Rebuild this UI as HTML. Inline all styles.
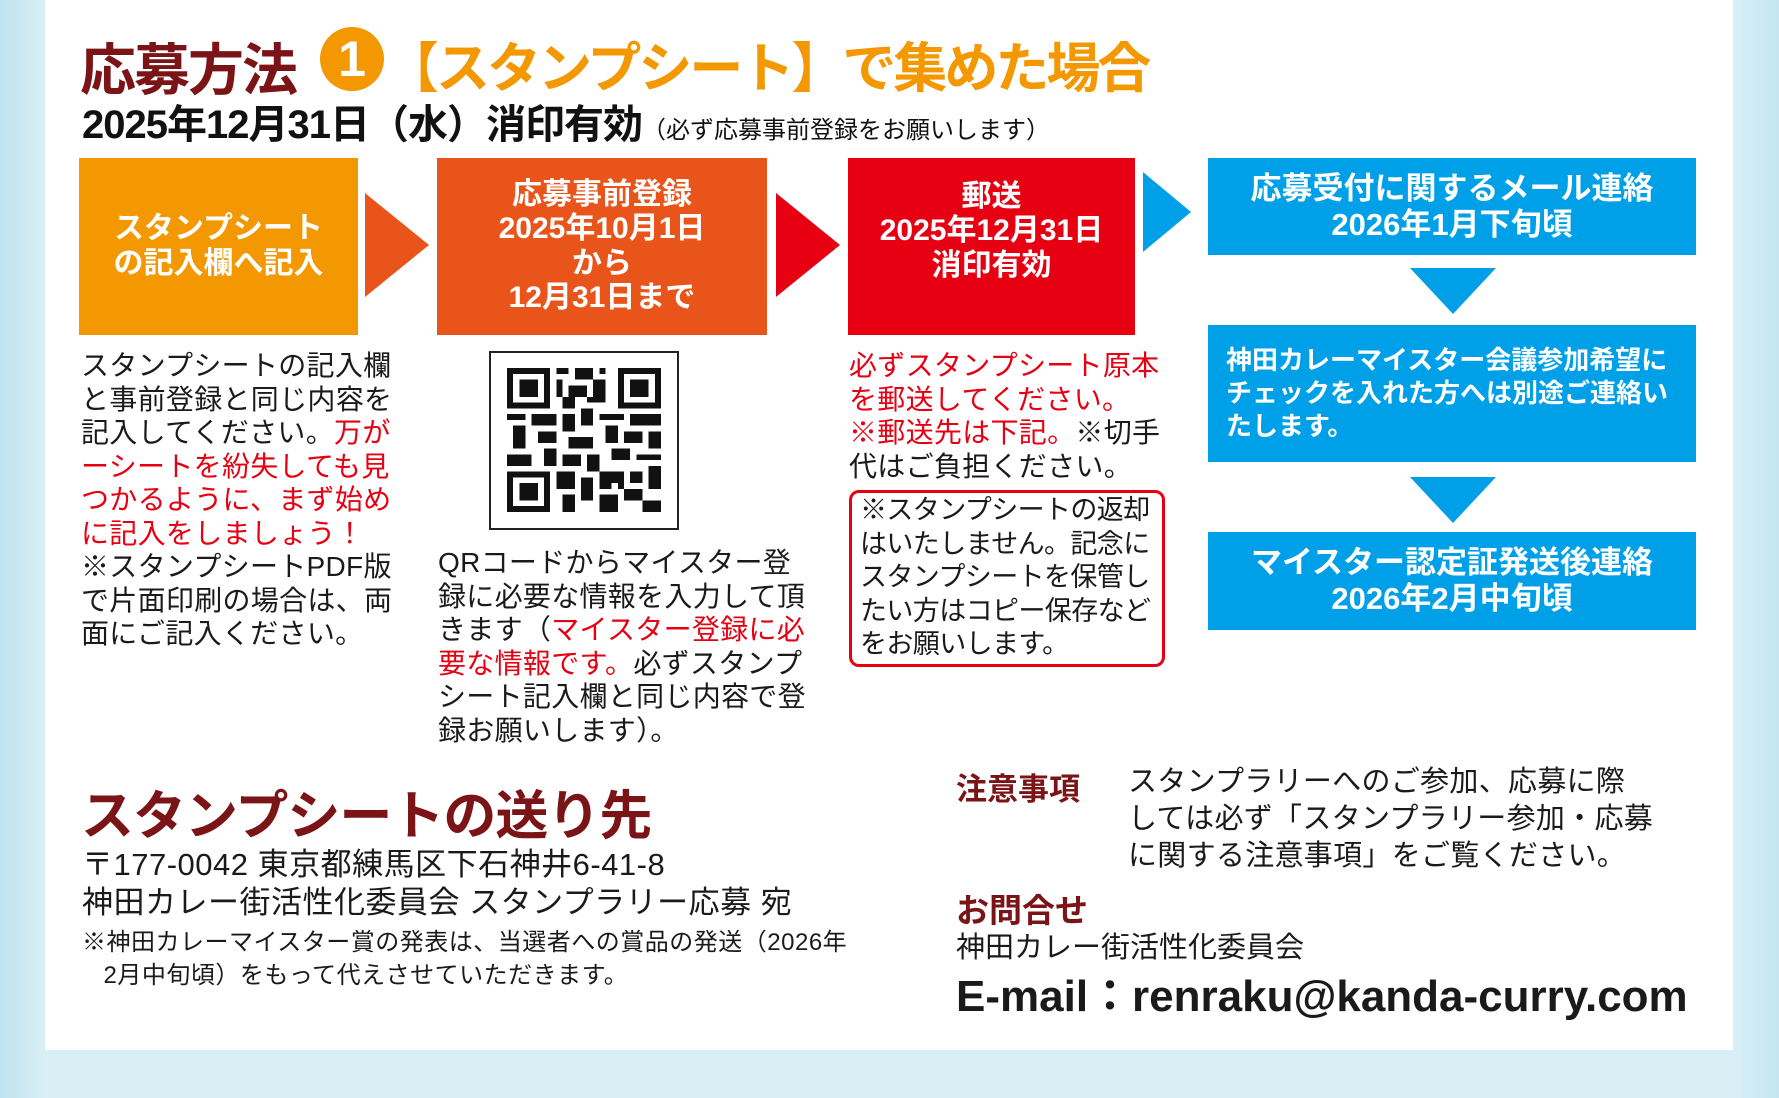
<!DOCTYPE html>
<html><head><meta charset="utf-8"><style>
*{margin:0;padding:0;box-sizing:border-box}
body{width:1779px;height:1098px;overflow:hidden;background:linear-gradient(90deg,#bfe3ee 0,#d9eff6 45px,#d9eff6 1733px,#c4e6f0 1779px);font-family:"Liberation Sans","Noto Sans CJK JP",sans-serif;color:#1a1a1a;position:relative}
.panel{position:absolute;left:45px;top:0;width:1688px;height:1050px;background:#fff}
.a{position:absolute;white-space:nowrap}
.b{font-weight:bold}
.box{position:absolute;color:#fff;font-weight:bold;text-align:center;display:flex;align-items:center;justify-content:center;line-height:1.15}
.r{color:#e60012}
.t{font-size:28px;line-height:33.5px;letter-spacing:0.3px}
</style></head><body>
<div class="panel"></div>
<div class="a b" style="left:80px;top:26px;font-size:56px;color:#7b1416;letter-spacing:-2px">応募方法</div>
<div class="a" style="left:320px;top:27px;width:64px;height:64px;border-radius:50%;background:#f39800;color:#fff;font-size:50px;font-weight:bold;text-align:center;line-height:64px">1</div>
<div class="a b" style="left:385px;top:24px;font-size:54px;color:#f39800;letter-spacing:-3px">【スタンプシート】で集めた場合</div>
<div class="a b" style="left:82px;top:92px;font-size:40px;color:#111;letter-spacing:-1px">2025年12月31日（水）消印有効<span style="font-size:24px;font-weight:normal;letter-spacing:0">（必ず応募事前登録をお願いします）</span></div>

<div class="box" style="left:79px;top:158px;width:279px;height:177px;background:#f39800;font-size:30px">スタンプシート<br>の記入欄へ記入</div>
<svg class="a" style="left:365px;top:193px" width="64" height="104"><polygon points="0,0 64,52 0,104" fill="#e8541a"/></svg>
<div class="box" style="left:437px;top:158px;width:330px;height:177px;background:#e8541a;font-size:30px">応募事前登録<br>2025年10月1日<br>から<br>12月31日まで</div>
<svg class="a" style="left:776px;top:193px" width="64" height="104"><polygon points="0,0 64,52 0,104" fill="#e60012"/></svg>
<div class="box" style="left:848px;top:158px;width:287px;height:177px;background:#e60012;font-size:30px;padding-bottom:30px">郵送<br>2025年12月31日<br>消印有効</div>
<svg class="a" style="left:1143px;top:172px" width="48" height="80"><polygon points="0,0 48,40 0,80" fill="#00a0e9"/></svg>
<div class="box" style="left:1208px;top:158px;width:488px;height:97px;background:#00a0e9;font-size:31px">応募受付に関するメール連絡<br>2026年1月下旬頃</div>
<svg class="a" style="left:1410px;top:268px" width="86" height="46"><polygon points="0,0 86,0 43,46" fill="#00a0e9"/></svg>
<div class="box" style="left:1208px;top:325px;width:488px;height:137px;background:#00a0e9;font-size:26px;text-align:left;justify-content:flex-start;padding-left:18px;line-height:33px">神田カレーマイスター会議参加希望に<br>チェックを入れた方へは別途ご連絡い<br>たします。</div>
<svg class="a" style="left:1410px;top:477px" width="86" height="46"><polygon points="0,0 86,0 43,46" fill="#00a0e9"/></svg>
<div class="box" style="left:1208px;top:532px;width:488px;height:98px;background:#00a0e9;font-size:31px">マイスター認定証発送後連絡<br>2026年2月中旬頃</div>

<div class="a t" style="left:81px;top:349px">スタンプシートの記入欄<br>と事前登録と同じ内容を<br>記入してください。<span class="r">万が</span><br><span class="r">ーシートを紛失しても見<br>つかるように、まず始め<br>に記入をしましょう！</span><br>※スタンプシートPDF版<br>で片面印刷の場合は、両<br>面にご記入ください。</div>

<div class="a" style="left:489px;top:351px;width:190px;height:179px;border:2px solid #222;background:#fff"></div>
<svg class="a" style="left:507px;top:368px" width="154" height="144" viewBox="0 0 25 25" preserveAspectRatio="none" shape-rendering="crispEdges">
<g fill="#111">
<rect x="0" y="0" width="7" height="7"/><rect x="18" y="0" width="7" height="7"/><rect x="0" y="18" width="7" height="7"/>
</g><g fill="#fff"><rect x="1" y="1" width="5" height="5"/><rect x="19" y="1" width="5" height="5"/><rect x="1" y="19" width="5" height="5"/></g>
<g fill="#111"><rect x="2" y="2" width="3" height="3"/><rect x="20" y="2" width="3" height="3"/><rect x="2" y="20" width="3" height="3"/>
<rect x="8" y="0" width="2" height="1"/><rect x="11" y="0" width="3" height="2"/><rect x="15" y="0" width="1" height="1"/><rect x="8" y="2" width="1" height="3"/><rect x="10" y="3" width="3" height="2"/><rect x="14" y="2" width="2" height="3"/><rect x="9" y="5" width="2" height="2"/><rect x="13" y="5" width="3" height="1"/>
<rect x="0" y="8" width="3" height="1"/><rect x="4" y="8" width="4" height="2"/><rect x="9" y="8" width="2" height="3"/><rect x="12" y="7" width="2" height="3"/><rect x="15" y="8" width="4" height="1"/><rect x="20" y="8" width="5" height="2"/>
<rect x="1" y="10" width="2" height="4"/><rect x="5" y="11" width="3" height="2"/><rect x="10" y="12" width="4" height="2"/><rect x="16" y="10" width="2" height="3"/><rect x="19" y="11" width="3" height="2"/><rect x="23" y="11" width="2" height="3"/>
<rect x="0" y="15" width="4" height="2"/><rect x="6" y="14" width="2" height="3"/><rect x="9" y="15" width="3" height="2"/><rect x="13" y="15" width="2" height="3"/><rect x="17" y="14" width="3" height="2"/><rect x="21" y="15" width="4" height="1"/>
<rect x="8" y="18" width="3" height="3"/><rect x="12" y="19" width="2" height="4"/><rect x="15" y="18" width="4" height="3"/><rect x="20" y="18" width="2" height="2"/><rect x="23" y="17" width="2" height="4"/>
<rect x="9" y="22" width="2" height="3"/><rect x="15" y="22" width="3" height="3"/><rect x="19" y="21" width="3" height="2"/><rect x="22" y="23" width="3" height="2"/><rect x="17" y="20" width="1" height="1" fill="#fff"/>
</g></svg>

<div class="a t" style="left:438px;top:546px">QRコードからマイスター登<br>録に必要な情報を入力して頂<br>きます（<span class="r">マイスター登録に必<br>要な情報です。</span>必ずスタンプ<br>シート記入欄と同じ内容で登<br>録お願いします）。</div>

<div class="a t" style="left:849px;top:349px"><span class="r">必ずスタンプシート原本<br>を郵送してください。<br>※郵送先は下記。</span>※切手<br>代はご負担ください。</div>
<div class="a t" style="left:849px;top:490px;width:316px;height:177px;border:3px solid #e60012;border-radius:10px;padding:1px 0 0 8px;line-height:33.5px;font-size:27px;letter-spacing:-0.6px">※スタンプシートの返却<br>はいたしません。記念に<br>スタンプシートを保管し<br>たい方はコピー保存など<br>をお願いします。</div>

<div class="a b" style="left:81px;top:774px;font-size:53px;color:#7b1416;letter-spacing:-1px">スタンプシートの送り先</div>
<div class="a" style="left:82px;top:846px;font-size:31px;line-height:38px;letter-spacing:0.5px">〒177-0042 東京都練馬区下石神井6-41-8<br>神田カレー街活性化委員会 スタンプラリー応募 宛</div>
<div class="a" style="left:82px;top:926px;font-size:24px;line-height:33px;letter-spacing:0.5px">※神田カレーマイスター賞の発表は、当選者への賞品の発送（2026年<br>&nbsp;&nbsp;&nbsp;2月中旬頃）をもって代えさせていただきます。</div>

<div class="a b" style="left:956px;top:764px;font-size:31px;color:#7b1416">注意事項</div>
<div class="a" style="left:1128px;top:764px;font-size:29px;line-height:37px;letter-spacing:0.3px">スタンプラリーへのご参加、応募に際<br>しては必ず「スタンプラリー参加・応募<br>に関する注意事項」をご覧ください。</div>
<div class="a b" style="left:956px;top:884px;font-size:33px;color:#7b1416">お問合せ</div>
<div class="a" style="left:956px;top:924px;font-size:29px">神田カレー街活性化委員会</div>
<div class="a b" style="left:956px;top:960px;font-size:44px;letter-spacing:0">E-mail：renraku@kanda-curry.com</div>
</body></html>
